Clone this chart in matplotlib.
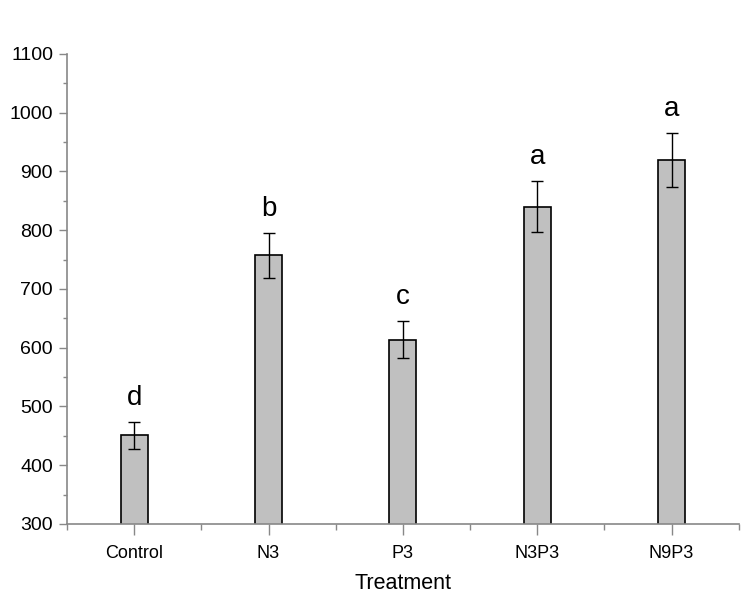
import matplotlib.pyplot as plt
from matplotlib.ticker import MultipleLocator

treatments = ["Control", "N3", "P3", "N3P3", "N9P3"]
means = [451, 757, 614, 840, 919]
errors = [23, 38, 31, 43, 46]
letters = ["d", "b", "c", "a", "a"]

plt.rcParams['font.family'] = ['Liberation Sans', 'DejaVu Sans']

fig = plt.figure(figsize=(7.47, 6.10), dpi=100)
ax = fig.add_axes([0.0897, 0.141, 0.8993, 0.7705])

x = list(range(len(treatments)))
ax.bar(x, means, width=0.2, color='#c0c0c0', edgecolor='black', linewidth=1.2, zorder=2)
ax.errorbar(x, means, yerr=errors, fmt='none', ecolor='black', elinewidth=1.0,
            capsize=4, capthick=1.0, zorder=3)

# significance letters above the error bars
for xi, m, e, lab in zip(x, means, errors, letters):
    ax.text(xi, m + e + 19, lab, ha='center', va='bottom', fontsize=20)

ax.set_xlim(-0.5, 4.5)
ax.set_ylim(300, 1100)
ax.set_xticks(x)
ax.set_xticklabels(treatments, fontsize=13)
ax.xaxis.set_minor_locator(MultipleLocator(1, offset=0.5))
ax.yaxis.set_major_locator(MultipleLocator(100))
ax.yaxis.set_minor_locator(MultipleLocator(50))
ax.tick_params(axis='y', labelsize=14)
ax.set_xlabel("Treatment", fontsize=15.5, labelpad=8)

spine_col = '#888888'
for side in ['top', 'right']:
    ax.spines[side].set_visible(False)
for side in ['left', 'bottom']:
    ax.spines[side].set_color(spine_col)
    ax.spines[side].set_linewidth(1.2)

ax.tick_params(axis='x', which='major', length=8, color=spine_col, width=1, pad=7)
ax.tick_params(axis='x', which='minor', length=4, color=spine_col, width=1)
ax.tick_params(axis='y', which='major', length=6, color=spine_col, width=1, pad=4)
ax.tick_params(axis='y', which='minor', length=3, color=spine_col, width=1)

fig.savefig("out.png", dpi=100)
